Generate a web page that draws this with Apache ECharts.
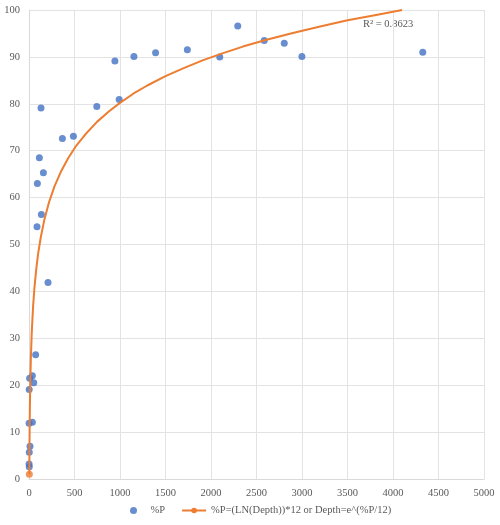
<!DOCTYPE html>
<html>
<head>
<meta charset="utf-8">
<script src="https://cdn.jsdelivr.net/npm/echarts@6/dist/echarts.min.js"></script>
<style>
  html, body { margin: 0; padding: 0; background: #fff; }
  #chart { width: 500px; height: 525px; }
</style>
</head>
<body>
<div id="chart"></div>
<script>
// measured points: depth vs %P
const depth = [132, 114, 158, 92, 136, 88, 209, 73, 37, 7, 52, 2, 1, 37, 11, 3, 1, 3,
  367, 488, 745, 944, 991, 1153, 1391, 1740, 2096, 2294, 2585, 2805, 2999, 4327]
const pctP = [79.1, 68.5, 65.3, 63.0, 56.4, 53.8, 41.9, 26.5, 22.0, 21.5, 20.5, 19.1, 11.9, 12.1, 7.0, 5.7, 3.2, 2.6,
  72.6, 73.1, 79.4, 89.1, 80.9, 90.1, 90.9, 91.5, 90.0, 96.6, 93.5, 92.9, 90.1, 91.0]

// curve
const curveDepth = [3.5, 4, 5, 7, 10, 15, 20, 30, 45, 60, 80, 100, 130, 170, 220, 280, 350, 430,
  520, 620, 750, 880, 1000, 1150, 1300, 1500, 1700, 1900, 2100, 2350, 2600, 2900, 3200, 3500, 3800, 4100]
const curveP = [1.0, 2.9, 6.0, 10.7, 15.7, 21.4, 25.4, 31.1, 36.8, 40.8, 44.8, 48.0, 51.6, 55.4, 59.0, 62.4, 65.5, 68.4,
  71.1, 73.5, 76.2, 78.4, 80.2, 82.2, 83.9, 85.9, 87.6, 89.2, 90.6, 92.2, 93.6, 95.1, 96.5, 97.8, 98.9, 100.0]

const scatterName = '%P'
const curveName = '%P=(LN(Depth))*12 or Depth=e^(%P/12)'
const r2Text = 'R² = 0.8623'

const font = 'Liberation Serif, Times New Roman, serif'
const grey = '#595959'
const fs = 10.5

const chart = echarts.init(document.getElementById('chart'))
const option = {
  animation: false,
  textStyle: { fontFamily: font },
  grid: { left: 29, right: 16, top: 10, bottom: 46 },
  xAxis: {
    type: 'value',
    min: 0,
    max: 5000,
    interval: 500,
    axisLine: { show: true, lineStyle: { color: '#d9d9d9' } },
    axisTick: { show: false },
    axisLabel: { color: grey, fontSize: fs, fontFamily: font, margin: 9, formatter: v => String(v) },
    splitLine: { lineStyle: { color: '#e3e3e3' } },
  },
  yAxis: {
    type: 'value',
    min: 0,
    max: 100,
    interval: 10,
    axisLine: { show: true, lineStyle: { color: '#d9d9d9' } },
    axisTick: { show: false },
    axisLabel: { color: grey, fontSize: fs, fontFamily: font, margin: 9 },
    splitLine: { lineStyle: { color: '#e3e3e3' } },
  },
  legend: {
    bottom: 4,
    left: 125,
    itemGap: 16,
    itemWidth: 24,
    itemHeight: 7,
    textStyle: { color: grey, fontSize: fs, fontFamily: font },
    data: [
      { name: scatterName, icon: 'circle' },
      { name: curveName },
    ],
  },
  graphic: [{
    type: 'text',
    left: 363,
    top: 19,
    style: { text: r2Text, fill: grey, font: fs + 'px ' + font },
  }],
  series: [
    {
      name: curveName,
      type: 'line',
      data: curveDepth.map((d, i) => [d, curveP[i]]),
      smooth: false,
      symbol: 'circle',
      symbolSize: 7,
      showSymbol: false,
      lineStyle: { color: '#ED7D31', width: 2 },
      itemStyle: { color: '#ED7D31' },
      z: 3,
    },
    {
      name: curveName + ' start',
      type: 'scatter',
      data: [[curveDepth[0], curveP[0]]],
      symbolSize: 7,
      itemStyle: { color: '#ED7D31' },
      z: 4,
    },
    {
      name: scatterName,
      type: 'scatter',
      data: depth.map((d, i) => [d, pctP[i]]),
      symbolSize: 7,
      itemStyle: { color: '#4472C4' },
      z: 2,
    },
  ],
}
chart.setOption(option)
</script>
</body>
</html>
